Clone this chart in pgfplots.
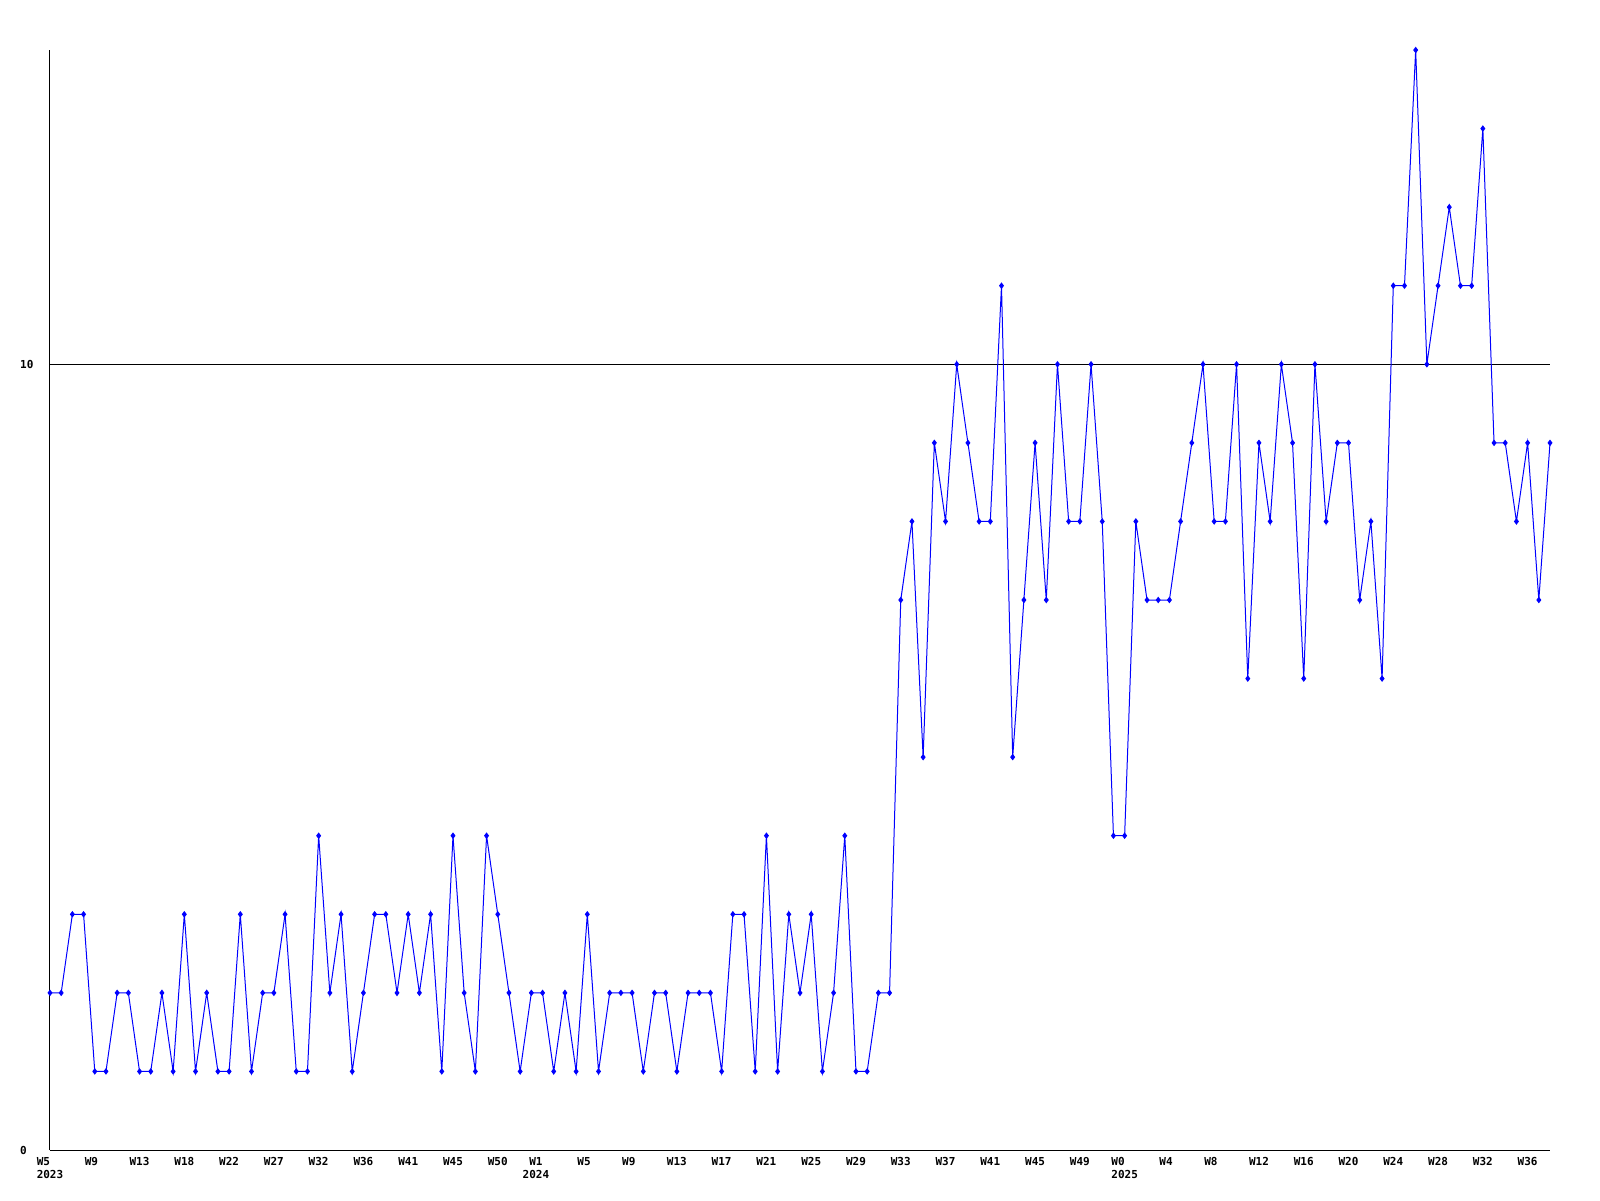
\documentclass[border=0pt]{standalone}
\usepackage{pgfplots}
\pgfplotsset{compat=1.18}
\usepackage{fontspec}
\setmonofont{DejaVu Sans Mono}
\definecolor{pblue}{RGB}{0,0,255}
\begin{document}
\begin{tikzpicture}
\begin{axis}[
  scale only axis,
  width=1500pt, height=1100pt,
  xmin=0, xmax=134, ymin=0, ymax=14,
  clip=false,
  axis x line=bottom, axis y line=left,
  axis line style={-, black, line width=1pt},
  major tick length=0pt,
  ytick={0,10}, yticklabels={0,10},
  ymajorgrids=true,
  major grid style={black, line width=1pt},
  xtick={0,4,...,132},
  xticklabels={{W5\\2023},W9\phantom{0},W13,W18,W22,W27,W32,W36,W41,W45,W50,{\hphantom{0}W1\\2024\hphantom{00}},W5\phantom{0},W9\phantom{0},W13,W17,W21,W25,W29,W33,W37,W41,W45,W49,{W0\\2025},W4\phantom{0},W8\phantom{0},W12,W16,W20,W24,W28,W32,W36},
  ticklabel style={font=\fontsize{11}{13.5}\selectfont\ttfamily\bfseries},
  xticklabel style={align=left, anchor=north, inner sep=0pt, yshift=-7pt},
  yticklabel style={anchor=west, inner sep=0pt, xshift=-30pt},
  /pgf/number format/assume math mode=true,
]
\addplot[pblue, line width=1pt, mark=diamond*, mark size=2.5pt, mark options={solid, fill=pblue}] table {
x y
0 2
1 2
2 3
3 3
4 1
5 1
6 2
7 2
8 1
9 1
10 2
11 1
12 3
13 1
14 2
15 1
16 1
17 3
18 1
19 2
20 2
21 3
22 1
23 1
24 4
25 2
26 3
27 1
28 2
29 3
30 3
31 2
32 3
33 2
34 3
35 1
36 4
37 2
38 1
39 4
40 3
41 2
42 1
43 2
44 2
45 1
46 2
47 1
48 3
49 1
50 2
51 2
52 2
53 1
54 2
55 2
56 1
57 2
58 2
59 2
60 1
61 3
62 3
63 1
64 4
65 1
66 3
67 2
68 3
69 1
70 2
71 4
72 1
73 1
74 2
75 2
76 7
77 8
78 5
79 9
80 8
81 10
82 9
83 8
84 8
85 11
86 5
87 7
88 9
89 7
90 10
91 8
92 8
93 10
94 8
95 4
96 4
97 8
98 7
99 7
100 7
101 8
102 9
103 10
104 8
105 8
106 10
107 6
108 9
109 8
110 10
111 9
112 6
113 10
114 8
115 9
116 9
117 7
118 8
119 6
120 11
121 11
122 14
123 10
124 11
125 12
126 11
127 11
128 13
129 9
130 9
131 8
132 9
133 7
134 9
};
\end{axis}
\pgfresetboundingbox
\useasboundingbox (-50pt,-50pt) rectangle (1550pt,1150pt);
\end{tikzpicture}
\end{document}
